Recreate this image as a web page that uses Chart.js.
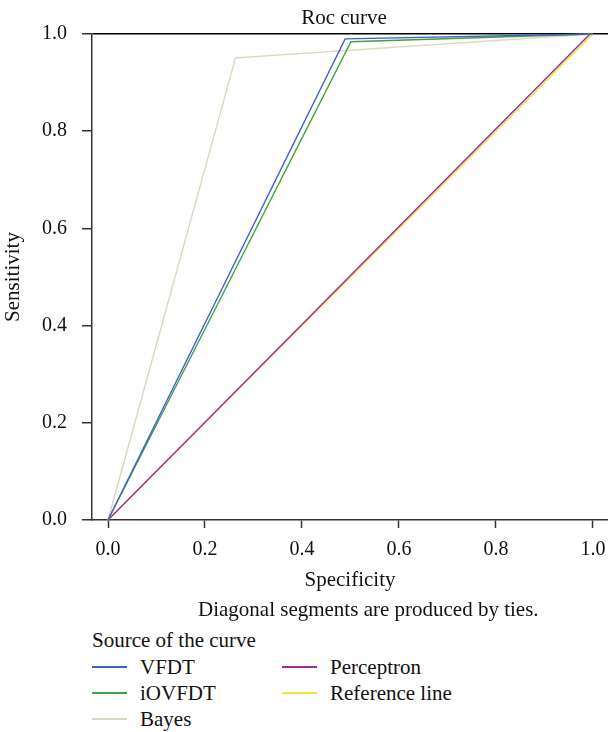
<!DOCTYPE html>
<html>
<head>
<meta charset="utf-8">
<script src="https://cdn.jsdelivr.net/npm/chart.js@4/dist/chart.umd.min.js"></script>
<style>
  body { margin: 0; background: #fff; font-family: "Liberation Serif", serif; color: #111; }
  #wrap { position: relative; width: 608px; height: 732px; overflow: hidden; }
  #roc { position: absolute; left: 0; top: 0; }
  .txt { position: absolute; font-size: 21px; line-height: 24px; white-space: nowrap; }
  .swatch { position: absolute; width: 35px; height: 0; border-top: 2px solid; }
</style>
</head>
<body>
<div id="wrap">
  <canvas id="roc" width="608" height="600"></canvas>
  <div class="txt" id="note" style="left:198px; top:597px;"></div>
  <div class="txt" id="legend-title" style="left:92px; top:628px;"></div>
  <div id="legend"></div>
</div>
<script>
// ROC curve data (specificity on x, sensitivity on y)

const chartTitle = 'Roc curve';
const xTitle = 'Specificity';
const yTitle = 'Sensitivity';
const noteText = 'Diagonal segments are produced by ties.';
const legendTitle = 'Source of the curve';

const curveNames = ['VFDT', 'iOVFDT', 'Bayes', 'Perceptron', 'Reference line'];
const curveColors = ['#3f62c4', '#3da344', '#dcd7bd', '#9b2d9f', '#f2e33a'];

const vfdtSpec = [0, 0.489, 1];
const vfdtSens = [0, 0.990, 1];
const iovfdtSpec = [0, 0.501, 1];
const iovfdtSens = [0, 0.984, 1];
const bayesSpec = [0, 0.263, 1];
const bayesSens = [0, 0.951, 1];
const perceptronSpec = [0, 0.994, 1];
const perceptronSens = [0, 1, 1];
const referenceSpec = [0, 1];
const referenceSens = [0, 1];

const xTicks = [0, 0.2, 0.4, 0.6, 0.8, 1.0];
const yTicks = [0, 0.2, 0.4, 0.6, 0.8, 1.0];

const fontFamily = '"Liberation Serif", serif';

function toPoints(xs, ys) {
  return xs.map((x, i) => ({ x: x, y: ys[i] }));
}

const curves = [
  toPoints(vfdtSpec, vfdtSens),
  toPoints(iovfdtSpec, iovfdtSens),
  toPoints(bayesSpec, bayesSens),
  toPoints(perceptronSpec, perceptronSens),
  toPoints(referenceSpec, referenceSens)
];

const datasets = curves.map((pts, i) => ({
  label: curveNames[i],
  data: pts,
  showLine: true,
  borderColor: curveColors[i],
  backgroundColor: curveColors[i],
  borderWidth: 1.4,
  pointRadius: 0,
  tension: 0,
  clip: false,
  order: i
}));

// title centred over the plot, like the original
const titlePlugin = {
  id: 'rocTitle',
  afterDraw(chart) {
    const ctx = chart.ctx;
    ctx.save();
    ctx.font = '21px ' + fontFamily;
    ctx.fillStyle = '#111';
    ctx.textAlign = 'center';
    ctx.textBaseline = 'middle';
    ctx.fillText(chartTitle, 344, 18);
    ctx.restore();
  }
};

const tickFont = { family: fontFamily, size: 20 };
const titleFont = { family: fontFamily, size: 21 };

new Chart(document.getElementById('roc'), {
  type: 'scatter',
  data: { datasets: datasets },
  plugins: [titlePlugin],
  options: {
    responsive: false,
    animation: false,
    devicePixelRatio: 1,
    layout: { padding: { top: 34, right: 0, bottom: 0, left: 0 } },
    plugins: {
      legend: { display: false },
      tooltip: { enabled: false }
    },
    scales: {
      x: {
        type: 'linear',
        min: -0.033,
        max: 1.031,
        afterBuildTicks: (s) => { s.ticks = xTicks.map(v => ({ value: v })); },
        afterFit: (s) => { s.height = 80; s.paddingLeft = 0; s.paddingRight = 0; },
        border: { display: true, color: '#333', width: 1.5 },
        grid: { drawOnChartArea: false, tickLength: 8, tickColor: '#333', tickWidth: 1.5 },
        ticks: {
          padding: 10,
          color: '#111',
          font: tickFont,
          maxRotation: 0,
          autoSkip: false,
          callback: (v) => Number(v).toFixed(1)
        },
        title: {
          display: true,
          text: xTitle,
          color: '#111',
          font: titleFont,
          padding: { top: 0, bottom: 7 }
        }
      },
      y: {
        type: 'linear',
        min: 0,
        max: 1,
        afterBuildTicks: (s) => { s.ticks = yTicks.map(v => ({ value: v })); },
        afterFit: (s) => { s.width = 92; s.paddingTop = 0; s.paddingBottom = 0; },
        border: { display: true, color: '#333', width: 1.5 },
        grid: {
          color: (c) => (c.tick && c.tick.value === 1) ? '#000' : 'rgba(0,0,0,0)',
          lineWidth: 1.5,
          tickLength: 10,
          tickColor: '#333',
          tickWidth: 1.5
        },
        ticks: {
          padding: 15,
          color: '#111',
          font: tickFont,
          callback: (v) => Number(v).toFixed(1)
        },
        title: {
          display: true,
          text: yTitle,
          color: '#111',
          font: titleFont,
          padding: { top: 1, bottom: 0 }
        }
      }
    }
  }
});

// footnote and legend under the chart
document.getElementById('note').textContent = noteText;
document.getElementById('legend-title').textContent = legendTitle;

const legendEl = document.getElementById('legend');
const colLeft = [92, 282];
const rowTop = [655, 681, 707];
curveNames.forEach((name, i) => {
  const col = Math.floor(i / 3);
  const row = i % 3;
  const sw = document.createElement('div');
  sw.className = 'swatch';
  sw.style.left = colLeft[col] + 'px';
  sw.style.top = (rowTop[row] + 11) + 'px';
  sw.style.borderColor = curveColors[i];
  legendEl.appendChild(sw);
  const lbl = document.createElement('div');
  lbl.className = 'txt';
  lbl.style.left = (colLeft[col] + 48) + 'px';
  lbl.style.top = rowTop[row] + 'px';
  lbl.textContent = name;
  legendEl.appendChild(lbl);
});
</script>
</body>
</html>
